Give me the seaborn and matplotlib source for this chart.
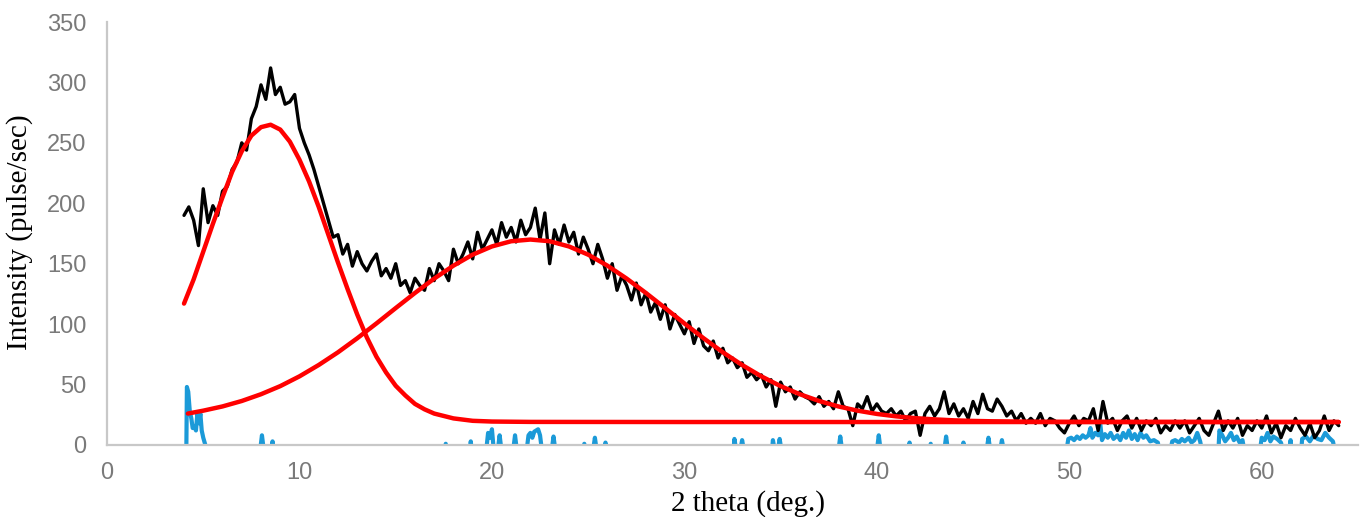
import numpy as np
import matplotlib
matplotlib.use("Agg")
import matplotlib.pyplot as plt
import seaborn as sns

theta = np.arange(4.0, 64.001, 0.25)
intensity = [
    190, 197, 186, 165, 212, 184, 198, 190,          # 4 - 5.75
    210, 214, 228, 234, 250, 244, 270, 280,          # 6 - 7.75
    298, 286, 312, 290, 296, 282, 284, 290,          # 8 - 9.75
    262, 250, 240, 228, 214, 200, 186, 172,          # 10 - 11.75
    174, 158, 166, 148, 160, 150, 144, 152,          # 12 - 13.75
    158, 140, 146, 138, 150, 132, 136, 126,          # 14 - 15.75
    138, 132, 128, 146, 136, 150, 144, 136,          # 16 - 17.75
    162, 150, 158, 168, 154, 176, 162, 170,          # 18 - 19.75
    178, 166, 184, 172, 180, 168, 186, 174,          # 20 - 21.75
    180, 196, 170, 192, 150, 178, 166, 182,          # 22 - 23.75
    168, 176, 158, 172, 162, 150, 166, 154,          # 24 - 25.75
    138, 150, 128, 140, 132, 120, 134, 116,          # 26 - 27.75
    126, 110, 118, 104, 116, 96, 108, 100,           # 28 - 29.75
    92, 102, 84, 96, 82, 78, 86, 72,                 # 30 - 31.75
    80, 68, 72, 64, 68, 56, 60, 54,                  # 32 - 33.75
    58, 48, 54, 32, 52, 44, 48, 38,                  # 34 - 35.75
    44, 40, 38, 34, 40, 32, 36, 30,                  # 36 - 37.75
    44, 32, 30, 16, 34, 30, 40, 28,                  # 38 - 39.75
    34, 28, 26, 30, 24, 28, 20, 26,                  # 40 - 41.75
    28, 8, 26, 32, 24, 30, 44, 26,                   # 42 - 43.75
    34, 24, 30, 22, 36, 26, 42, 30,                  # 44 - 45.75
    28, 38, 32, 24, 28, 20, 26, 18,                  # 46 - 47.75
    22, 18, 26, 16, 22, 20, 14, 10,                  # 48 - 49.75
    18, 24, 16, 22, 20, 30, 12, 36,                  # 50 - 51.75
    18, 22, 12, 20, 24, 14, 22, 12,                  # 52 - 53.75
    20, 16, 22, 10, 16, 12, 20, 14,                  # 54 - 55.75
    20, 10, 16, 22, 12, 8, 18, 28,                   # 56 - 57.75
    12, 20, 14, 22, 8, 16, 12, 20,                   # 58 - 59.75
    14, 24, 10, 18, 6, 16, 12, 22,                   # 60 - 61.75
    14, 8, 18, 6, 12, 24, 12, 20,                    # 62 - 63.75
    16,                                              # 64
]

# Fitted component 1 (low-angle peak)
fit1_theta = [4.0, 4.5, 5.0, 5.5, 6.0, 6.5, 7.0, 7.5, 8.0, 8.5, 9.0, 9.5,
              10.0, 10.5, 11.0, 11.5, 12.0, 12.5, 13.0, 13.5, 14.0, 14.5,
              15.0, 15.5, 16.0, 16.5, 17.0, 18.0, 19.0, 20.0, 22.0, 30.0,
              40.0, 50.0, 64.0]
fit1_counts = [117, 137, 160, 183, 205, 226, 243, 256, 263, 265, 261, 251,
               236, 218, 197, 174, 151, 129, 108, 89, 73, 60,
               49, 41, 34, 29.5, 26, 22, 20, 19.4, 19.1, 19,
               19, 19, 19]

# Fitted component 2 (broad halo)
fit2_theta = [4.2, 5, 6, 7, 8, 9, 10, 11, 12, 13, 14, 15, 16, 17, 18, 19,
              20, 21, 22, 23, 24, 25, 26, 27, 28, 29, 30, 31, 32, 33, 34,
              35, 36, 37, 38, 39, 40, 41, 42, 43, 44, 45, 46, 48, 50, 64]
fit2_counts = [26, 28.4, 31.9, 36.4, 42.0, 48.7, 56.8, 66.2, 76.7, 88.3,
               100.6, 113.3, 125.8, 137.7, 148.4, 157.5, 164.3, 168.6, 170,
               168.6, 164.3, 157.5, 148.4, 137.7, 125.8, 113.3, 100.6, 88.3,
               76.7, 66.2, 56.8, 48.7, 42.0, 36.4, 31.9, 28.4, 25.7, 23.7,
               22.2, 21.2, 20.4, 19.9, 19.6, 19.2, 19.1, 19.0]

# Residual (only the positive part shows above the axis)
resid_theta = [
    4.12, 4.15, 4.22, 4.3, 4.38, 4.45, 4.55, 4.62, 4.7, 4.78, 4.85, 4.92, 5.0, 5.2,
    7.95, 8.05, 8.15, 8.55, 8.6, 8.65,
    17.55, 17.6, 17.65, 18.85, 18.9, 18.95,
    19.7, 19.8, 19.9, 20.0, 20.1, 20.3, 20.4, 20.5, 21.1, 21.2, 21.3,
    21.8, 21.9, 22.0, 22.1, 22.2, 22.3, 22.4, 22.5, 22.6,
    23.1, 23.2, 23.3, 24.75, 24.8, 24.85, 25.25, 25.35, 25.45, 25.85, 25.9, 25.95,
    32.55, 32.6, 32.7, 32.9, 33.0, 33.1, 34.55, 34.6, 34.7, 34.85, 34.95, 35.05,
    38.0, 38.1, 38.2, 40.0, 40.1, 40.2, 41.65, 41.7, 41.75, 42.75, 42.8, 42.85,
    43.5, 43.6, 43.7, 44.45, 44.5, 44.55, 45.7, 45.8, 45.9, 46.4, 46.5, 46.6,
    49.85, 49.95, 50.1, 50.25, 50.4, 50.55, 50.7, 50.85, 51.0, 51.1, 51.2, 51.35,
    51.5, 51.6, 51.7, 51.85, 52.0, 52.15, 52.3, 52.5, 52.65, 52.8, 52.95, 53.1,
    53.25, 53.4, 53.55, 53.7, 53.85, 54.0, 54.2, 54.4, 54.6, 54.7,
    55.25, 55.35, 55.5, 55.7, 55.85, 56.0, 56.2, 56.35, 56.5, 56.65, 56.8, 56.9,
    57.75, 57.8, 57.95, 58.1, 58.25, 58.4, 58.55, 58.7, 58.85, 59.0, 59.1,
    59.9, 60.0, 60.15, 60.3, 60.45, 60.6, 60.8, 61.0, 61.1, 61.45, 61.5, 61.55,
    62.05, 62.1, 62.3, 62.5, 62.7, 62.9, 63.1, 63.3, 63.5, 63.7, 63.8,
]
resid_counts = [
    -5, 48, 44, 28, 22, 14, 15, 12, 27, 18, 26, 12, 6, -5,
    -5, 8, -5, -5, 3, -5,
    -5, 1, -5, -5, 3, -5,
    -5, 10, 6, 13, -5, -5, 8, -5, -5, 8, -5,
    -5, 8, 10, 6, 11, 12, 13, 8, -5,
    -5, 7, -5, -5, 1, -5, -5, 6, -5, -5, 2, -5,
    -5, 5, -5, -5, 4, -5, -5, 4, -5, -5, 5, -5,
    -5, 7, -5, -5, 8, -5, -5, 2, -5, -5, 1, -5,
    -5, 7, -5, -5, 2, -5, -5, 6, -5, -5, 4, -5,
    -5, 5, 6, 4, 7, 5, 8, 6, 8, 14, 6, 10,
    8, 19, 4, 9, 6, 10, 5, 8, 4, 10, 6, 12,
    5, 9, 4, 10, 6, 8, 3, 4, 2, -5,
    -5, 3, 4, 2, 5, 3, 6, 2, 4, 10, 3, -5,
    -5, 12, 8, 3, 6, 10, 4, 7, 2, 4, -5,
    -5, 6, 4, 10, 3, 7, 5, 2, -5, -5, 4, -5,
    -5, 5, 7, 3, 8, 5, 4, 10, 6, 3, -5,
]

x_ticks = [0, 10, 20, 30, 40, 50, 60]
y_ticks = [0, 50, 100, 150, 200, 250, 300, 350]

sns.set_style("white")

fig = plt.figure(figsize=(13.6, 5.17), dpi=100)
ax = fig.add_axes([0.0787, 0.1393, 0.9198, 0.8181])

sns.lineplot(x=resid_theta, y=resid_counts, color="#1b9ad8", linewidth=3,
             estimator=None, sort=False, ax=ax)
sns.lineplot(x=theta, y=intensity, color="black", linewidth=2.4,
             estimator=None, sort=False, ax=ax)
sns.lineplot(x=fit1_theta, y=fit1_counts, color="#ff0000", linewidth=3.2,
             estimator=None, sort=False, ax=ax)
sns.lineplot(x=fit2_theta, y=fit2_counts, color="#ff0000", linewidth=3.2,
             estimator=None, sort=False, ax=ax)

ax.set_xlim(0, 65)
ax.set_ylim(0, 350)
ax.set_xticks(x_ticks)
ax.set_yticks(y_ticks)
ax.tick_params(axis="both", length=0, labelsize=17, labelcolor="#7a7a7a")
ax.tick_params(axis="y", pad=15)
ax.tick_params(axis="x", pad=12)
for lab in ax.get_xticklabels() + ax.get_yticklabels():
    lab.set_family("Liberation Sans")

sns.despine(ax=ax)
for side in ["left", "bottom"]:
    ax.spines[side].set_color("#c8c8c8")
    ax.spines[side].set_linewidth(1.6)

ax.set_xlabel("2 theta (deg.)", family="Liberation Serif", fontsize=21, color="black")
ax.set_ylabel("Intensity (pulse/sec)", family="Liberation Serif", fontsize=21, color="black")
ax.xaxis.set_label_coords(0.512, -0.106)
ax.yaxis.set_label_coords(-0.059, 0.504)

fig.savefig("out.png", dpi=100)
